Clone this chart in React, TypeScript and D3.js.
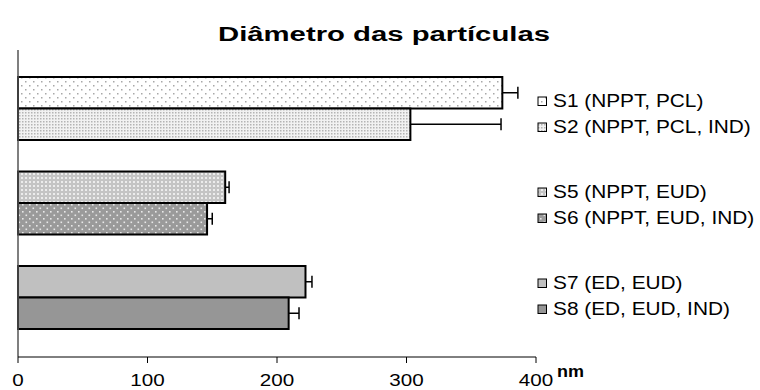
import React from "react";
import * as d3 from "d3";

const categories = ["S1 (NPPT, PCL)", "S2 (NPPT, PCL, IND)", "S5 (NPPT, EUD)", "S6 (NPPT, EUD, IND)", "S7 (ED, EUD)", "S8 (ED, EUD, IND)"];
const groups = ["G1", "G1", "G2", "G2", "G3", "G3"];
const values = [374, 303, 160, 146, 222, 209];
const errors = [12, 70, 3, 4, 5, 8];
const xTicks = [0, 100, 200, 300, 400];

const W = 760;
const H = 390;
const FONT = "'Liberation Sans', Arial, Helvetica, sans-serif";
const STRETCH = 1.19;

export default function App() {
  const x = d3.scaleLinear().domain([0, 400]).range([18, 536]);
  const groupNames = Array.from(new Set(groups));
  const yGroup = d3.scaleBand<string>().domain(groupNames).range([61.25, 344.75]).paddingInner(1 / 3).paddingOuter(1 / 6);
  const yInner = d3.scaleBand<number>().domain([0, 1]).range([0, yGroup.bandwidth()]);
  const axisY = 357;

  const items = categories.map((c, i) => {
    const g = groups[i];
    const idx = groups.slice(0, i).filter((v) => v === g).length;
    const gi = groupNames.indexOf(g);
    return { c, i, g, gi, idx, y: (yGroup(g) as number) + (yInner(idx) as number), v: values[i], e: errors[i] };
  });

  const fills = ["url(#p1)", "url(#p2)", "url(#p5)", "url(#p6)", "#c0c0c0", "#969696"];

  return (
    <svg width={W} height={H} style={{ position: "absolute", left: 0, top: 0, background: "#fff" }} fontFamily={FONT}>
      <defs>
        <pattern id="p1" width="8" height="8" patternUnits="userSpaceOnUse">
          <rect width="8" height="8" fill="#fff" />
          <rect x="1" y="1" width="1.5" height="1.5" fill="#a8a8a8" />
          <rect x="5" y="5" width="1.5" height="1.5" fill="#a8a8a8" />
        </pattern>
        <pattern id="p2" width="3" height="3" patternUnits="userSpaceOnUse">
          <rect width="3" height="3" fill="#f2f2f2" />
          <rect x="1" y="1" width="1.5" height="1.5" fill="#b4b4b4" />
        </pattern>
        <pattern id="p5" width="4" height="4" patternUnits="userSpaceOnUse">
          <rect width="4" height="4" fill="#c4c4c4" />
          <rect x="1" y="1" width="2" height="2" fill="#ececec" />
        </pattern>
        <pattern id="p6" width="7" height="7" patternUnits="userSpaceOnUse">
          <rect width="7" height="7" fill="#9a9a9a" />
          <rect x="1" y="1" width="1.6" height="1.6" fill="#e8e8e8" />
          <rect x="4.5" y="4.5" width="1.6" height="1.6" fill="#e8e8e8" />
        </pattern>
      </defs>

      <text x={384} y={41} textAnchor="middle" fontSize={20} fontWeight="bold" fill="#000" textLength={332} lengthAdjust="spacingAndGlyphs">
        Diâmetro das partículas
      </text>

      {/* bars */}
      {items.map((d) => (
        <rect key={d.c} x={x(0)} y={d.y} width={x(d.v) - x(0)} height={yInner.bandwidth()} fill={fills[d.i]} stroke="#000" strokeWidth={2} />
      ))}

      {/* error bars */}
      {items.map((d) => {
        const cy = d.y + yInner.bandwidth() / 2;
        return (
          <g key={"e" + d.c} stroke="#000" strokeWidth={1.5}>
            <line x1={x(d.v)} x2={x(d.v + d.e)} y1={cy} y2={cy} />
            <line x1={x(d.v + d.e)} x2={x(d.v + d.e)} y1={cy - 6} y2={cy + 6} />
          </g>
        );
      })}

      {/* axes */}
      <line x1={x(0)} x2={x(0)} y1={50} y2={axisY} stroke="#555" strokeWidth={1.5} />
      <line x1={x(0)} x2={x(400)} y1={axisY} y2={axisY} stroke="#000" strokeWidth={1} />
      {xTicks.map((t) => (
        <g key={t}>
          <line x1={x(t)} x2={x(t)} y1={axisY} y2={axisY + 6} stroke="#000" strokeWidth={1} />
          <text transform={`translate(${x(t)},386) scale(1.25,1)`} textAnchor="middle" fontSize={16.5} fill="#000">
            {t}
          </text>
        </g>
      ))}
      <text x={557} y={377} fontSize={17} fontWeight="bold" fill="#000" textLength={27} lengthAdjust="spacingAndGlyphs">
        nm
      </text>

      {/* legend */}
      {items.map((d) => {
        const base = 107 + d.idx * 26 + d.gi * 91;
        return (
          <g key={"l" + d.c}>
            <rect x={538} y={base - 10} width={8.5} height={8.5} fill={fills[d.i]} stroke="#000" strokeWidth={1} />
            <text transform={`translate(553,${base}) scale(${STRETCH},1)`} fontSize={17.5} fill="#000">
              {d.c}
            </text>
          </g>
        );
      })}
    </svg>
  );
}
